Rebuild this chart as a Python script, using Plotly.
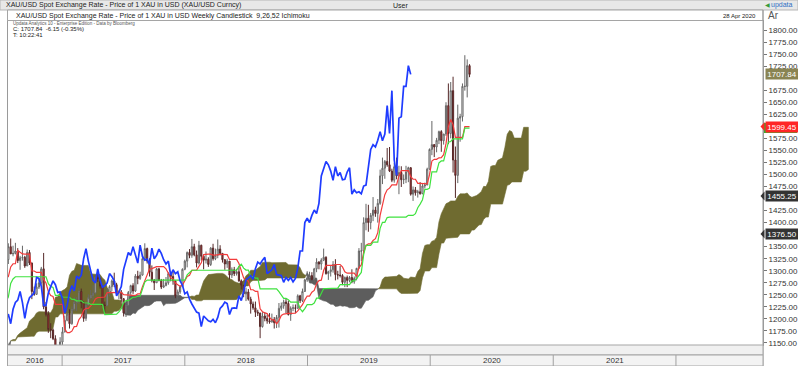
import numpy as np
import pandas as pd
import plotly.graph_objects as go

# ---------------- data (weekly bars, week starting Monday 2014-12-29) ----------------
FIRST_WEEK = "2014-12-29"

close = [
    # 2015
    1186, 1216, 1277, 1293, 1279, 1234, 1228, 1204, 1213, 1165, 1152, 1183, 1199, 1201, 1207, 1204, 1178, 1174,
    1189, 1225, 1205, 1190, 1168, 1180, 1201, 1173, 1168, 1157, 1131, 1099, 1095, 1094, 1113, 1159, 1134, 1121,
    1108, 1137, 1145, 1137, 1156, 1176, 1163, 1142, 1088, 1081, 1076, 1056, 1085, 1075, 1066, 1076,
    # 2016
    1061, 1104, 1089, 1098, 1118, 1173, 1239, 1227, 1222, 1271, 1259, 1254, 1221, 1222, 1243, 1235, 1231, 1293,
    1290, 1273, 1252, 1213, 1243, 1275, 1298, 1316, 1340, 1366, 1327, 1323, 1350, 1335, 1336, 1341, 1321, 1327,
    1328, 1310, 1338, 1316, 1257, 1251, 1266, 1275, 1304, 1225, 1209, 1178, 1177, 1159, 1134, 1133, 1152,
    # 2017
    1173, 1197, 1210, 1190, 1220, 1234, 1239, 1257, 1234, 1201, 1229, 1244, 1249, 1254, 1286, 1284, 1268, 1228,
    1228, 1254, 1267, 1279, 1271, 1255, 1256, 1242, 1212, 1228, 1255, 1269, 1258, 1289, 1284, 1291, 1325, 1346,
    1320, 1297, 1280, 1275, 1304, 1280, 1266, 1269, 1275, 1294, 1288, 1279, 1248, 1256, 1267, 1303,
    # 2018
    1320, 1338, 1332, 1350, 1333, 1316, 1353, 1330, 1322, 1324, 1313, 1347, 1325, 1332, 1345, 1336, 1323, 1314,
    1320, 1291, 1302, 1294, 1298, 1279, 1270, 1252, 1256, 1241, 1231, 1223, 1214, 1212, 1184, 1206, 1201, 1196,
    1194, 1199, 1192, 1203, 1222, 1227, 1235, 1232, 1209, 1222, 1223, 1222, 1248, 1238, 1257, 1281,
    # 2019
    1285, 1290, 1282, 1304, 1318, 1314, 1322, 1328, 1294, 1298, 1302, 1313, 1292, 1291, 1290, 1276, 1286, 1280,
    1286, 1277, 1284, 1305, 1341, 1341, 1400, 1409, 1400, 1415, 1426, 1419, 1440, 1497, 1513, 1527, 1520, 1507,
    1488, 1516, 1497, 1504, 1489, 1490, 1505, 1514, 1459, 1468, 1462, 1464, 1460, 1476, 1478, 1511,
    # 2020
    1552, 1562, 1557, 1571, 1589, 1570, 1584, 1643, 1585, 1674, 1530, 1498, 1617, 1620, 1683, 1683, 1726, 1707.84,
]

high = [
    # 2015
    1195, 1223, 1282, 1307, 1297, 1280, 1245, 1226, 1219, 1223, 1177, 1187, 1219, 1225, 1223, 1209, 1205, 1215,
    1194, 1232, 1228, 1207, 1196, 1194, 1205, 1205, 1187, 1171, 1159, 1131, 1105, 1099, 1126, 1168, 1170, 1146,
    1126, 1142, 1157, 1146, 1160, 1191, 1178, 1180, 1143, 1093, 1088, 1080, 1088, 1089, 1089, 1082,
    # 2016
    1082, 1113, 1104, 1112, 1127, 1176, 1263, 1240, 1261, 1279, 1282, 1274, 1252, 1244, 1248, 1262, 1271, 1298,
    1303, 1292, 1280, 1255, 1248, 1286, 1315, 1362, 1350, 1375, 1368, 1338, 1357, 1367, 1352, 1358, 1347, 1331,
    1352, 1331, 1344, 1343, 1317, 1267, 1274, 1284, 1308, 1337, 1235, 1216, 1191, 1180, 1166, 1143, 1162,
    # 2017
    1183, 1207, 1220, 1220, 1226, 1245, 1245, 1264, 1263, 1237, 1233, 1251, 1260, 1270, 1289, 1295, 1285, 1269,
    1236, 1264, 1270, 1282, 1296, 1275, 1259, 1260, 1243, 1232, 1258, 1271, 1274, 1293, 1300, 1298, 1330, 1357,
    1348, 1326, 1311, 1283, 1306, 1306, 1283, 1283, 1287, 1297, 1298, 1299, 1279, 1261, 1270, 1305,
    # 2018
    1323, 1340, 1345, 1366, 1356, 1342, 1362, 1354, 1332, 1340, 1328, 1349, 1356, 1346, 1365, 1353, 1337, 1324,
    1325, 1320, 1307, 1308, 1304, 1310, 1282, 1270, 1265, 1262, 1246, 1236, 1236, 1219, 1213, 1214, 1214, 1209,
    1212, 1211, 1204, 1208, 1233, 1234, 1240, 1243, 1238, 1226, 1230, 1230, 1251, 1250, 1263, 1283,
    # 2019
    1299, 1298, 1297, 1306, 1326, 1320, 1326, 1346, 1330, 1300, 1311, 1320, 1324, 1300, 1310, 1293, 1288, 1290,
    1289, 1303, 1288, 1306, 1347, 1358, 1411, 1439, 1437, 1420, 1453, 1433, 1449, 1510, 1535, 1530, 1555, 1557,
    1512, 1524, 1535, 1518, 1517, 1500, 1518, 1516, 1515, 1475, 1474, 1468, 1484, 1480, 1483, 1514,
    # 2020
    1554, 1611, 1563, 1576, 1591, 1592, 1584, 1650, 1689, 1692, 1703, 1558, 1645, 1626, 1689, 1747.7, 1739, 1729,
]

low = [
    # 2015
    1167, 1186, 1216, 1276, 1250, 1232, 1217, 1193, 1196, 1164, 1147, 1142, 1181, 1178, 1191, 1183, 1174, 1170,
    1168, 1182, 1200, 1181, 1162, 1165, 1172, 1170, 1162, 1147, 1130, 1077, 1080, 1080, 1093, 1113, 1118, 1118,
    1098, 1104, 1125, 1106, 1137, 1154, 1160, 1140, 1085, 1077, 1062, 1052, 1046, 1062, 1046, 1065,
    # 2016
    1057, 1061, 1072, 1085, 1096, 1116, 1172, 1191, 1215, 1220, 1237, 1226, 1208, 1208, 1214, 1225, 1227, 1228,
    1265, 1260, 1245, 1206, 1200, 1241, 1270, 1254, 1310, 1336, 1310, 1311, 1314, 1335, 1330, 1334, 1316, 1302,
    1321, 1306, 1310, 1312, 1241, 1248, 1250, 1262, 1271, 1220, 1205, 1171, 1160, 1156, 1123, 1124, 1133,
    # 2017
    1146, 1172, 1195, 1180, 1188, 1216, 1216, 1231, 1222, 1194, 1196, 1228, 1241, 1240, 1251, 1277, 1263, 1226,
    1214, 1226, 1247, 1258, 1266, 1250, 1241, 1236, 1205, 1204, 1226, 1250, 1252, 1256, 1272, 1281, 1290, 1324,
    1315, 1288, 1276, 1260, 1275, 1278, 1262, 1264, 1268, 1271, 1278, 1271, 1243, 1236, 1252, 1267,
    # 2018
    1301, 1307, 1326, 1327, 1330, 1307, 1313, 1321, 1303, 1315, 1308, 1310, 1321, 1322, 1326, 1332, 1317, 1302,
    1306, 1282, 1285, 1289, 1290, 1277, 1261, 1245, 1237, 1238, 1211, 1219, 1204, 1206, 1160, 1182, 1195, 1190,
    1190, 1192, 1180, 1181, 1182, 1217, 1221, 1212, 1207, 1196, 1216, 1212, 1221, 1233, 1235, 1256,
    # 2019
    1277, 1279, 1280, 1276, 1297, 1303, 1302, 1320, 1292, 1281, 1288, 1296, 1280, 1282, 1286, 1270, 1266, 1266,
    1276, 1274, 1273, 1280, 1305, 1320, 1338, 1384, 1381, 1386, 1403, 1412, 1400, 1437, 1480, 1491, 1516, 1505,
    1484, 1483, 1490, 1459, 1474, 1480, 1482, 1484, 1456, 1445, 1456, 1452, 1458, 1459, 1471, 1478,
    # 2020
    1510, 1540, 1536, 1546, 1563, 1547, 1562, 1580, 1563, 1575, 1504, 1451.2, 1482, 1568, 1610, 1674, 1660, 1702,
]

assert len(close) == len(high) == len(low)

TENKAN_N, KIJUN_N, SENKOU_N = 9, 26, 52
SHIFT = 25

year_labels = ["2016", "2017", "2018", "2019", "2020", "2021"]
header_title = "XAU/USD Spot Exchange Rate - Price of 1 XAU in USD (XAU/USD Curncy)"
chart_title = "XAU/USD Spot Exchange Rate - Price of 1 XAU in USD Weekly Candlestick  9,26,52 Ichimoku"
chart_date = "28 Apr 2020"
day_change, day_change_pct = -6.15, -0.35
time_text = "T: 10:22:41"

# ---------------- derived series ----------------
n = len(close)
dates = pd.date_range(FIRST_WEEK, periods=n, freq="7D")
opens = [close[0]] + close[:-1]
hs, ls = pd.Series(high, dtype=float), pd.Series(low, dtype=float)
tenkan = (hs.rolling(TENKAN_N).max() + ls.rolling(TENKAN_N).min()) / 2
kijun = (hs.rolling(KIJUN_N).max() + ls.rolling(KIJUN_N).min()) / 2
spanA = (tenkan + kijun) / 2
spanB = (hs.rolling(SENKOU_N).max() + ls.rolling(SENKOU_N).min()) / 2
fut = pd.date_range(dates[0] + pd.Timedelta(weeks=SHIFT), periods=n, freq="7D")

def iso(t):
    return pd.Timestamp(t).strftime("%Y-%m-%d %H:%M:%S")

# ---------------- geometry ----------------
W, H = 798, 366
ML, MR, MT, MB = 8, 35, 21, 21
PW, PH = W - ML - MR, H - MT - MB
Y_LO, Y_HI = 1145.8, 1818.7
X_LO = pd.Timestamp("2016-07-24")
X_HI = pd.Timestamp("2022-09-17")
UNITS_PER_PX = (Y_HI - Y_LO) / PH

def px(x):
    return (x - ML) / PW

def py(y):
    return (H - MB - y) / PH

OLIVE = "#6f6b30"
GREY = "#5d5d5d"
FONT = "Arial, Liberation Sans, sans-serif"

fig = go.Figure()

# ---------------- cloud (base subplot) ----------------
segs = []
cur = None
prev = None
A, B = spanA.values, spanB.values
for i in range(n):
    a, b = A[i], B[i]
    if np.isnan(a) or np.isnan(b):
        continue
    t = fut[i]
    s = a >= b
    if cur is None:
        cur = {"s": s, "x": [t], "a": [a], "b": [b]}
        prev = (t, a, b)
        continue
    if s != cur["s"]:
        t0, a0, b0 = prev
        d0, d1 = a0 - b0, a - b
        f = d0 / (d0 - d1)
        tc = t0 + (t - t0) * f
        vc = a0 + (a - a0) * f
        cur["x"].append(tc); cur["a"].append(vc); cur["b"].append(vc)
        segs.append(cur)
        cur = {"s": s, "x": [tc], "a": [vc], "b": [vc]}
    cur["x"].append(t); cur["a"].append(a); cur["b"].append(b)
    prev = (t, a, b)
segs.append(cur)

for sg in segs:
    col = OLIVE if sg["s"] else GREY
    xs = [iso(t) for t in sg["x"]] + [iso(t) for t in sg["x"][::-1]]
    ys = list(sg["a"]) + list(sg["b"][::-1])
    fig.add_trace(go.Scatter(x=xs, y=ys, mode="lines", fill="toself", fillcolor=col,
                             line=dict(color=col, width=0.6), hoverinfo="skip", showlegend=False,
                             xaxis="x", yaxis="y"))

# ---------------- candles (overlay 2) ----------------
fig.add_trace(go.Candlestick(
    x=[iso(t) for t in dates], open=opens, high=high, low=low, close=close,
    increasing=dict(line=dict(color="#666666", width=1), fillcolor="#ffffff"),
    decreasing=dict(line=dict(color="#552828", width=1), fillcolor="#cf2f2f"),
    whiskerwidth=0, showlegend=False, xaxis="x2", yaxis="y2"))

# ---------------- lines (overlay 3) ----------------
fig.add_trace(go.Scatter(x=[iso(t) for t in dates], y=tenkan, mode="lines",
                         line=dict(color="#f23b3b", width=1.2), showlegend=False, xaxis="x3", yaxis="y3"))
fig.add_trace(go.Scatter(x=[iso(t) for t in dates], y=kijun, mode="lines",
                         line=dict(color="#3fe23f", width=1.2), showlegend=False, xaxis="x3", yaxis="y3"))
fig.add_trace(go.Scatter(x=[iso(t) for t in dates[: n - SHIFT]], y=close[SHIFT:], mode="lines",
                         line=dict(color="#1f3cff", width=1.7), showlegend=False, xaxis="x3", yaxis="y3"))

# ---------------- badge values ----------------
last = n - 1
badges = [
    (float(close[-1]), "#8a8452"),
    (float(tenkan.iloc[last]), "#ff2626"),
    (float(spanA.iloc[last - SHIFT]), "#333333"),
    (float(spanB.iloc[last - SHIFT]), "#333333"),
]
kijun_last = float(kijun.iloc[last])

# tick labels that are not hidden behind a badge
tick_vals = [v for v in range(1150, 1826, 25) if all(abs(v - b[0]) > 12 for b in badges)]

# ---------------- axes ----------------
xr = [iso(X_LO), iso(X_HI)]
yr = [Y_LO, Y_HI]
common_x = dict(type="date", range=xr, showgrid=False, zeroline=False, fixedrange=True, automargin=False)
fig.update_layout(
    width=W, height=H, autosize=False,
    margin=dict(l=ML, r=MR, t=MT, b=MB, pad=0, autoexpand=False),
    paper_bgcolor="white", plot_bgcolor="white",
    font=dict(family=FONT, color="#333"),
    showlegend=False,
    xaxis=dict(**common_x, showticklabels=False, ticks="", showline=True, mirror=True,
               linecolor="#9a9a9a", linewidth=1),
    yaxis=dict(range=yr, side="right", showgrid=False, zeroline=False, tickvals=tick_vals,
               tickformat=".2f", ticks="outside", ticklen=3, tickcolor="#777", automargin=False,
               tickfont=dict(size=8, color="#333", family=FONT), showline=True, mirror=True,
               linecolor="#9a9a9a", linewidth=1),
    xaxis2=dict(**common_x, overlaying="x", visible=False, rangeslider=dict(visible=False)),
    yaxis2=dict(range=yr, overlaying="y", visible=False, anchor="x2", automargin=False),
    xaxis3=dict(**common_x, overlaying="x", visible=False),
    yaxis3=dict(range=yr, overlaying="y", visible=False, anchor="x3", automargin=False),
)

shapes = []
annots = []

# top header bar
shapes.append(dict(type="rect", xref="paper", yref="paper", x0=px(0), x1=px(W), y0=py(10), y1=py(0),
                   fillcolor="#e8e8e8", line=dict(color="#b5b5b5", width=1), layer="above"))
# second header bar
shapes.append(dict(type="rect", xref="paper", yref="paper", x0=px(7.5), x1=px(763), y0=py(20.5), y1=py(10),
                   fillcolor="#ffffff", line=dict(color="#a5a5a5", width=1), layer="above"))
# right column outline
shapes.append(dict(type="line", xref="paper", yref="paper", x0=px(763), x1=px(763), y0=py(366), y1=py(10),
                   line=dict(color="#9a9a9a", width=1), layer="above"))
# bottom bands
shapes.append(dict(type="rect", xref="paper", yref="paper", x0=px(7.5), x1=px(763), y0=py(355), y1=py(345),
                   fillcolor="#f0f0f0", line=dict(color="#a5a5a5", width=1), layer="above"))
shapes.append(dict(type="rect", xref="paper", yref="paper", x0=px(7.5), x1=px(763), y0=py(366), y1=py(355),
                   fillcolor="#f3f3f3", line=dict(color="#a5a5a5", width=1), layer="above"))
# year dividers
for yy in range(2017, 2023):
    shapes.append(dict(type="line", xref="x", yref="paper", x0=f"{yy}-01-01", x1=f"{yy}-01-01",
                       y0=py(366), y1=py(355), line=dict(color="#a0a0a0", width=1), layer="above"))

# kijun marker (mostly hidden beneath the tenkan badge)
half = 5 * UNITS_PER_PX
shapes.append(dict(type="rect", xref="paper", yref="y", x0=px(764), x1=px(797), y0=kijun_last - half,
                   y1=kijun_last + half, fillcolor="#2fb42f", line=dict(width=0), layer="above"))
# pointed tips of the badges
for val, col in badges[1:]:
    tip = 4.5 * UNITS_PER_PX
    shapes.append(dict(type="path", xref="paper", yref="y",
                       path=f"M {px(760.5)},{val} L {px(764.5)},{val + tip} L {px(764.5)},{val - tip} Z",
                       fillcolor=col, line=dict(width=0), layer="above"))

# year labels
for lab in year_labels:
    yy = int(lab)
    start = max(pd.Timestamp(f"{yy}-01-01"), X_LO)
    end = pd.Timestamp(f"{yy + 1}-01-01")
    mid = start + (end - start) / 2
    annots.append(dict(x=iso(mid), xref="x", y=py(360.5), yref="paper", text=lab, showarrow=False,
                       font=dict(size=8, color="#333"), xanchor="center", yanchor="middle"))

# header texts
for x, txt, anc in [(4, header_title, "left"), (400, "User", "center"), (14, chart_title, "left")]:
    yy = 5 if txt != chart_title else 15.5
    annots.append(dict(x=px(x), y=py(yy), xref="paper", yref="paper", text=txt, showarrow=False,
                       xanchor=anc, yanchor="middle", font=dict(size=7, color="#222")))
annots.append(dict(x=px(795), y=py(5), xref="paper", yref="paper", text="updata", showarrow=False,
                   xanchor="right", yanchor="middle", font=dict(size=7, color="#2f6fc4")))
annots.append(dict(x=px(772), y=py(5), xref="paper", yref="paper", text="◀", showarrow=False,
                   xanchor="right", yanchor="middle", font=dict(size=6, color="#3a9a3a")))
annots.append(dict(x=px(758), y=py(15.5), xref="paper", yref="paper", text=chart_date, showarrow=False,
                   xanchor="right", yanchor="middle", font=dict(size=6, color="#222")))
annots.append(dict(x=px(766), y=py(15.5), xref="paper", yref="paper", text="Ar", showarrow=False,
                   xanchor="left", yanchor="middle", font=dict(size=10, color="#555")))
annots.append(dict(x=px(11), y=py(23.5), xref="paper", yref="paper",
                   text="Updata Analytics 10 - Enterprise Edition - Data by Bloomberg", showarrow=False,
                   xanchor="left", yanchor="middle", font=dict(size=4.5, color="#555")))
annots.append(dict(x=px(11), y=py(29), xref="paper", yref="paper",
                   text=f"C: {close[-1]:.2f}  {day_change:.2f} ({day_change_pct:.2f}%)", showarrow=False,
                   xanchor="left", yanchor="middle", font=dict(size=6, color="#222")))
annots.append(dict(x=px(11), y=py(35), xref="paper", yref="paper", text=time_text, showarrow=False,
                   xanchor="left", yanchor="middle", font=dict(size=6, color="#222")))

# value badges on the price axis
for val, col in badges:
    annots.append(dict(x=px(764.5), xref="paper", y=val, yref="y", text=f"{val:.2f}", showarrow=False,
                       xanchor="left", yanchor="middle", bgcolor=col, borderpad=0.5, width=31, height=9,
                       font=dict(size=8, color="white", family=FONT)))

fig.update_layout(shapes=shapes, annotations=annots)
fig.write_html("out.html")
